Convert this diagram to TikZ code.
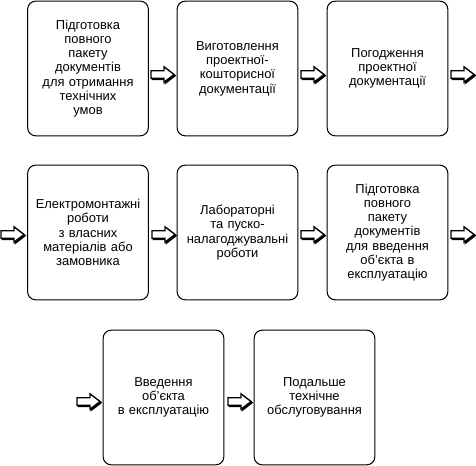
\documentclass[tikz,border=0pt]{standalone}
\usepackage{fontspec}
\setmainfont{Liberation Sans}
\begin{document}
\begin{tikzpicture}[x=0.75pt,y=-0.75pt,
  stage/.style={draw=black, line width=0.75pt, rounded corners=6pt, fill=white,
    minimum width=90.5pt, minimum height=101pt, text width=86pt, align=center,
    inner sep=0pt, font=\fontsize{9.7pt}{10.7pt}\selectfont},
  arrowbody/.style={draw=black, fill=white, line width=1pt, line join=miter},
  arrowshadow/.style={draw=black, fill=black, line width=1pt, line join=miter}]
\def\flowarrow#1{%
  \path[arrowshadow] ([shift={(1.2,1.2)}]#1) ++(0,-3.8) -- ++(13,0) -- ++(0,-3.9) -- ++(10,7.7) -- ++(-10,7.7) -- ++(0,-3.9) -- ++(-13,0) -- cycle;
  \path[arrowbody] (#1) ++(0,-3.8) -- ++(13,0) -- ++(0,-3.9) -- ++(10,7.7) -- ++(-10,7.7) -- ++(0,-3.9) -- ++(-13,0) -- cycle;}
\useasboundingbox (0,0) rectangle (476,466);
% row 1
\node[stage] (b1) at (88,68.5) {Підготовка\\повного\\пакету\\документів\\для отримання\\технічних\\умов};
\node[stage] (b2) at (237.5,68.5) {Виготовлення\\проектної-\\кошторисної\\документації};
\node[stage] (b3) at (387.5,68.5) {Погодження\\проектної\\документації};
% row 2
\node[stage] (b4) at (88,232.5) {Електромонтажні\\роботи\\з власних\\матеріалів або\\замовника};
\node[stage] (b5) at (237.5,232.5) {Лабораторні\\та пуско-\\налагоджувальні\\роботи};
\node[stage] (b6) at (387.5,232.5) {Підготовка\\повного\\пакету\\документів\\для введення\\об'єкта в\\експлуатацію};
% row 3
\node[stage] (b7) at (163.5,397.5) {Введення\\об'єкта\\в експлуатацію};
\node[stage] (b8) at (314.5,397.5) {Подальше\\технічне\\обслуговування};
% arrows (tail centres)
\coordinate (a1) at (151,74.5);
\coordinate (a2) at (301,74.5);
\coordinate (a3) at (451,74.5);
\coordinate (a4) at (1,234.5);
\coordinate (a5) at (152,234.5);
\coordinate (a6) at (301,234.5);
\coordinate (a7) at (451,234.5);
\coordinate (a8) at (77,401.5);
\coordinate (a9) at (228,401.5);
\foreach \a in {a1,a2,a3,a4,a5,a6,a7,a8,a9} {\flowarrow{\a}}
\end{tikzpicture}
\end{document}
